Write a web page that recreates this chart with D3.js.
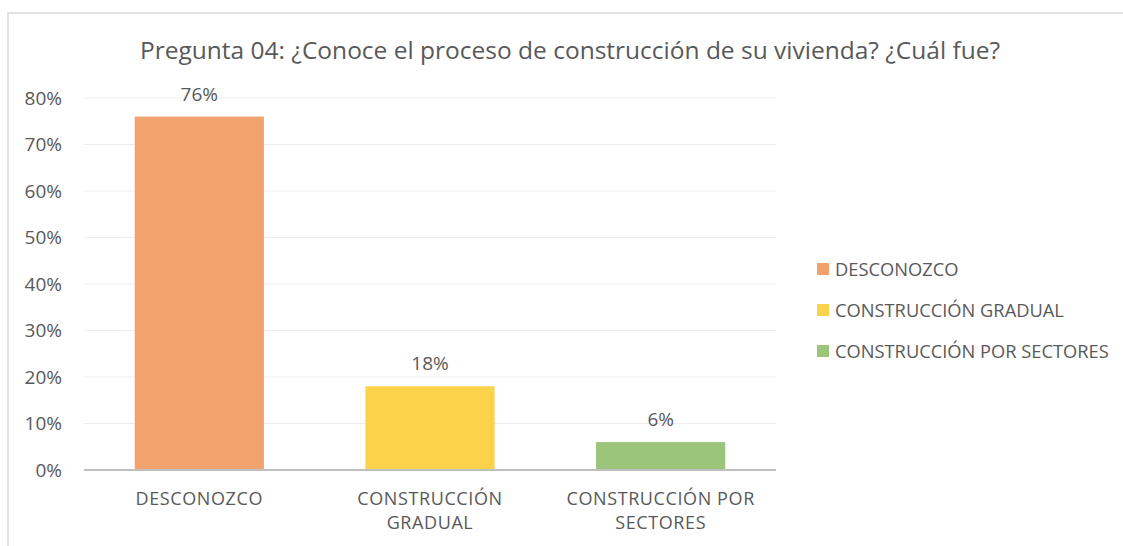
<!DOCTYPE html>
<html>
<head>
<meta charset="utf-8">
<script src="https://cdn.jsdelivr.net/npm/d3@7"></script>
<style>
  body { margin: 0; background: #fff; }
  text { font-family: "Open Sans", sans-serif; fill: #595959; }
</style>
</head>
<body>
<div id="chart"></div>
<script>
// data
var categories = ["DESCONOZCO", "CONSTRUCCIÓN GRADUAL", "CONSTRUCCIÓN POR SECTORES"];
var axisLabels = [["DESCONOZCO"], ["CONSTRUCCIÓN", "GRADUAL"], ["CONSTRUCCIÓN POR", "SECTORES"]];
var values = [0.76, 0.18, 0.06];
var colors = ["#F2A26D", "#FCD24B", "#9BC57B"];
var yTicks = [0, 0.1, 0.2, 0.3, 0.4, 0.5, 0.6, 0.7, 0.8];
var title = "Pregunta 04: ¿Conoce el proceso de construcción de su vivienda? ¿Cuál fue?";

var width = 1123, height = 546;
var plotLeft = 84, plotRight = 776, plotTop = 98, plotBottom = 470;

var svg = d3.select("#chart").append("svg")
	.attr("width", width)
	.attr("height", height);

// outer frame
svg.append("rect")
	.attr("x", 8).attr("y", 13)
	.attr("width", width + 10).attr("height", height)
	.style("fill", "none")
	.style("stroke", "#D9D9D9")
	.style("stroke-width", 1.5);

var x = d3.scaleBand()
	.domain(categories)
	.range([plotLeft, plotRight])
	.paddingInner(0.44)
	.paddingOuter(0.22);

var y = d3.scaleLinear()
	.domain([0, 0.8])
	.range([plotBottom, plotTop]);

// gridlines
svg.append("g")
	.selectAll("line")
	.data(yTicks.slice(1))
	.enter()
	.append("line")
	.attr("x1", plotLeft).attr("x2", plotRight)
	.attr("y1", d => y(d)).attr("y2", d => y(d))
	.style("stroke", "#EDEDED")
	.style("stroke-width", 1);

// y axis labels
var yAxis = svg.append("g")
	.attr("transform", "translate(" + (plotLeft - 22) + ",0)")
	.call(d3.axisLeft(y).tickValues(yTicks).tickFormat(d3.format(".0%")).tickSize(0).tickPadding(0));
yAxis.select(".domain").remove();
yAxis.selectAll("text")
	.style("font-size", "19px")
	.style("fill", "#595959")
	.style("font-family", "'Open Sans', sans-serif");

// bars
svg.append("g")
	.selectAll("rect")
	.data(values)
	.enter()
	.append("rect")
	.attr("x", (d, i) => x(categories[i]))
	.attr("y", d => y(d))
	.attr("width", x.bandwidth())
	.attr("height", d => y(0) - y(d))
	.style("fill", (d, i) => colors[i]);

// data labels
svg.append("g")
	.selectAll("text")
	.data(values)
	.enter()
	.append("text")
	.attr("x", (d, i) => x(categories[i]) + x.bandwidth() / 2)
	.attr("y", d => y(d) - 16)
	.attr("text-anchor", "middle")
	.style("font-size", "19px")
	.text(d => d3.format(".0%")(d));

// x axis line
svg.append("line")
	.attr("x1", plotLeft).attr("x2", plotRight)
	.attr("y1", y(0)).attr("y2", y(0))
	.style("stroke", "#BFBFBF")
	.style("stroke-width", 2);

// category labels
var cat = svg.append("g")
	.selectAll("text")
	.data(axisLabels)
	.enter()
	.append("text")
	.attr("x", (d, i) => x(categories[i]) + x.bandwidth() / 2)
	.attr("y", 505)
	.attr("text-anchor", "middle")
	.style("font-size", "18px")
	.style("letter-spacing", "0.6px");
cat.selectAll("tspan")
	.data(d => d)
	.enter()
	.append("tspan")
	.attr("x", function() { return d3.select(this.parentNode).attr("x"); })
	.attr("dy", (d, i) => i == 0 ? 0 : 24)
	.text(d => d);

// title
svg.append("text")
	.attr("x", 570)
	.attr("y", 59)
	.attr("text-anchor", "middle")
	.style("font-size", "24.5px")
	.text(title);

// legend
var legend = svg.append("g")
	.selectAll("g")
	.data(categories)
	.enter()
	.append("g")
	.attr("transform", (d, i) => "translate(817," + (269 + i * 41) + ")");
legend.append("rect")
	.attr("x", 0).attr("y", -6)
	.attr("width", 12).attr("height", 12)
	.style("fill", (d, i) => colors[i]);
legend.append("text")
	.attr("x", 18)
	.attr("y", 7)
	.style("font-size", "18.3px")
	.text(d => d);
</script>
</body>
</html>
